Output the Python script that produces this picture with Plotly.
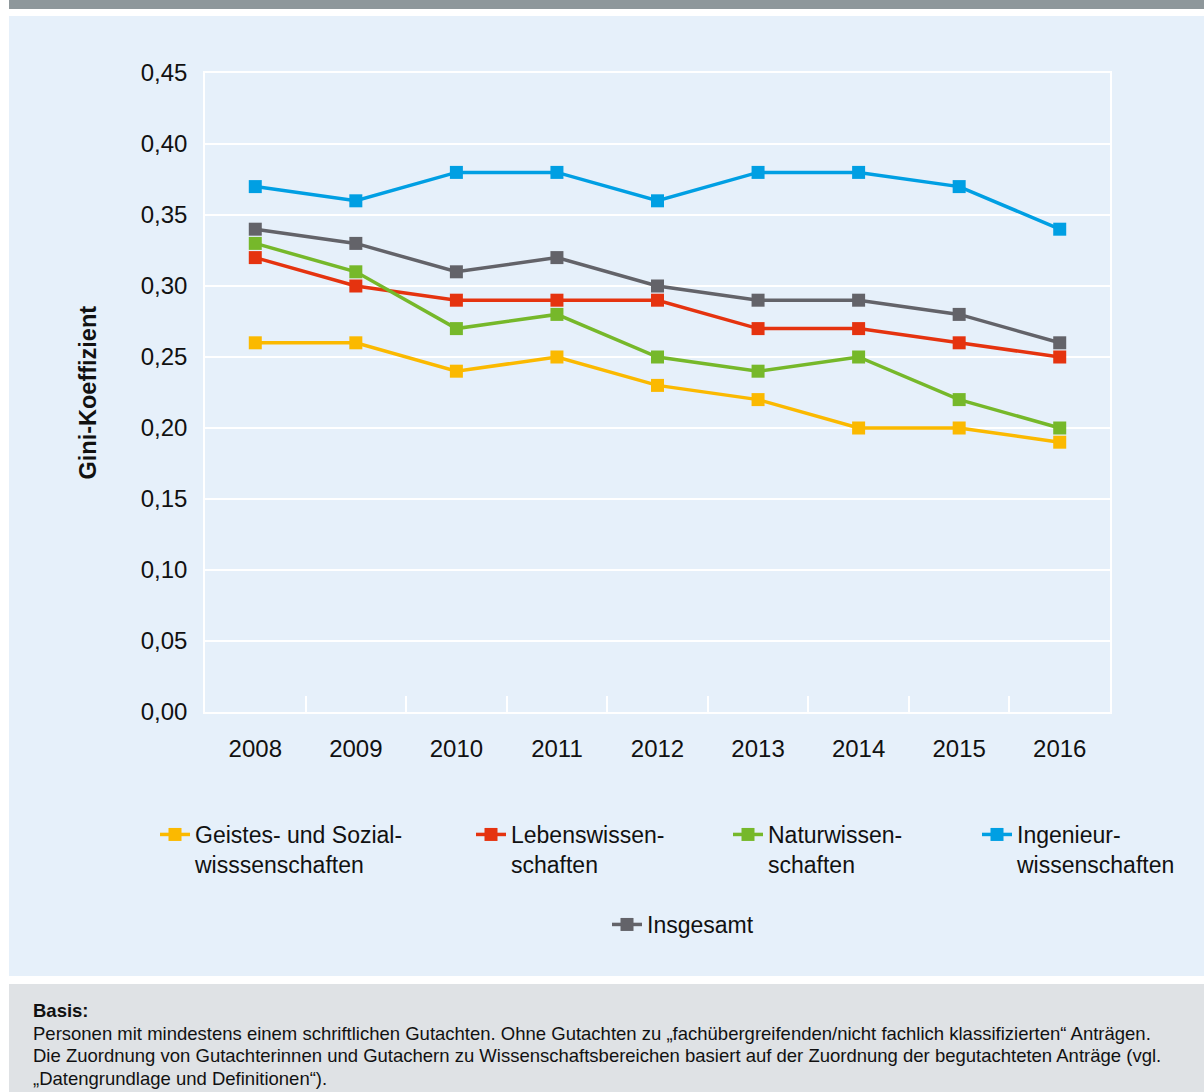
import plotly.graph_objects as go

# Gini coefficient of review counts per reviewer, by science domain
years = ["2008", "2009", "2010", "2011", "2012", "2013", "2014", "2015", "2016"]

geistes = [0.26, 0.26, 0.24, 0.25, 0.23, 0.22, 0.20, 0.20, 0.19]
leben = [0.32, 0.30, 0.29, 0.29, 0.29, 0.27, 0.27, 0.26, 0.25]
natur = [0.33, 0.31, 0.27, 0.28, 0.25, 0.24, 0.25, 0.22, 0.20]
ingenieur = [0.37, 0.36, 0.38, 0.38, 0.36, 0.38, 0.38, 0.37, 0.34]
insgesamt = [0.34, 0.33, 0.31, 0.32, 0.30, 0.29, 0.29, 0.28, 0.26]

series_names = [
    "Geistes- und Sozial-<br>wisssenschaften",
    "Lebenswissen-<br>schaften",
    "Naturwissen-<br>schaften",
    "Ingenieur-<br>wissenschaften",
    "Insgesamt",
]
series_values = [geistes, leben, natur, ingenieur, insgesamt]
series_colors = ["#fbb900", "#e5330f", "#76b82a", "#009fe3", "#636369"]
legend_ids = ["legend", "legend2", "legend3", "legend4", "legend5"]

footnote_title = "Basis:"
footnote_lines = [
    "Personen mit mindestens einem schriftlichen Gutachten. Ohne Gutachten zu \u201efach\u00fcbergreifenden/nicht fachlich klassifizierten\u201c Antr\u00e4gen.",
    "Die Zuordnung von Gutachterinnen und Gutachern zu Wissenschaftsbereichen basiert auf der Zuordnung der begutachteten Antr\u00e4ge (vgl.",
    "\u201eDatengrundlage und Definitionen\u201c).",
]

FIG_W, FIG_H = 1204, 1092
PLOT_L, PLOT_R, PLOT_T, PLOT_B = 205, 1110, 73, 712
PANEL_BG = "#e6f0fa"
SANS = "Liberation Sans, Arial, sans-serif"


def px_x(px):
    return (px - PLOT_L) / (PLOT_R - PLOT_L)


def px_y(py):
    return (PLOT_B - py) / (PLOT_B - PLOT_T)


fig = go.Figure()

for name, vals, color, lg in zip(series_names, series_values, series_colors, legend_ids):
    fig.add_trace(go.Scatter(
        x=years, y=vals, name=name, mode="lines+markers",
        line=dict(color=color, width=3.5),
        marker=dict(symbol="square", size=13, color=color),
        legend=lg,
    ))

# Background panels: top rule, chart panel, footnote panel
shapes = [
    dict(type="rect", xref="paper", yref="paper", layer="below",
         x0=px_x(9), x1=px_x(1210), y0=px_y(0), y1=px_y(9),
         fillcolor="#8e979b", line_width=0),
    dict(type="rect", xref="paper", yref="paper", layer="below",
         x0=px_x(9), x1=px_x(1210), y0=px_y(16), y1=px_y(976),
         fillcolor=PANEL_BG, line_width=0),
    dict(type="rect", xref="paper", yref="paper", layer="below",
         x0=px_x(9), x1=px_x(1210), y0=px_y(984), y1=px_y(1095),
         fillcolor="#dfe2e5", line_width=0),
]

annotations = [
    dict(text="<b>Gini-Koeffizient</b>", xref="paper", yref="paper",
         x=px_x(87), y=0.5, textangle=-90, showarrow=False,
         font=dict(family=SANS, size=23.5, color="#111111"),
         xanchor="center", yanchor="middle"),
    dict(text="<b>" + footnote_title + "</b>", xref="paper", yref="paper",
         x=px_x(31), y=px_y(1010), showarrow=False,
         font=dict(family=SANS, size=18.5, color="#111111"),
         xanchor="left", yanchor="middle"),
]
for i, line in enumerate(footnote_lines):
    annotations.append(dict(
        text=line, xref="paper", yref="paper",
        x=px_x(31), y=px_y(1033 + 22.5 * i), showarrow=False,
        font=dict(family=SANS, size=18.5, color="#111111"),
        xanchor="left", yanchor="middle",
    ))

# One legend box per series so the entries sit where they belong
legend_text_x = [197, 513, 770, 1019, 649]
legend_top_y = [813, 813, 813, 813, 903]
legend_common = dict(
    orientation="v", bgcolor="rgba(0,0,0,0)", borderwidth=0,
    font=dict(family=SANS, size=23, color="#111111"),
    xanchor="left", yanchor="top", valign="top", itemwidth=30,
    tracegroupgap=0,
)
legend_layout = {}
for lg, tx, ty in zip(legend_ids, legend_text_x, legend_top_y):
    legend_layout[lg] = dict(legend_common, x=px_x(tx - 42), y=px_y(ty))

fig.update_layout(
    width=FIG_W, height=FIG_H, autosize=False,
    margin=dict(l=PLOT_L, r=FIG_W - PLOT_R, t=PLOT_T, b=FIG_H - PLOT_B),
    paper_bgcolor="white", plot_bgcolor=PANEL_BG,
    separators=",.",
    showlegend=True,
    shapes=shapes, annotations=annotations,
    xaxis=dict(
        type="category", range=[-0.5, 8.5],
        showgrid=False, zeroline=False,
        showline=True, linecolor="white", linewidth=1.5, mirror=True,
        ticks="inside", tickson="boundaries", ticklen=16,
        tickcolor="white", tickwidth=1.5,
        tickfont=dict(family=SANS, size=24, color="#111111"),
        ticklabelstandoff=14,
    ),
    yaxis=dict(
        range=[0, 0.45], dtick=0.05, tickformat=".2f",
        showgrid=True, gridcolor="white", gridwidth=1.5,
        zeroline=False,
        showline=True, linecolor="white", linewidth=1.5, mirror=True,
        ticks="", ticklabelstandoff=11,
        tickfont=dict(family=SANS, size=24, color="#111111"),
    ),
    **legend_layout,
)

fig.write_html("out.html", config={"responsive": False})
